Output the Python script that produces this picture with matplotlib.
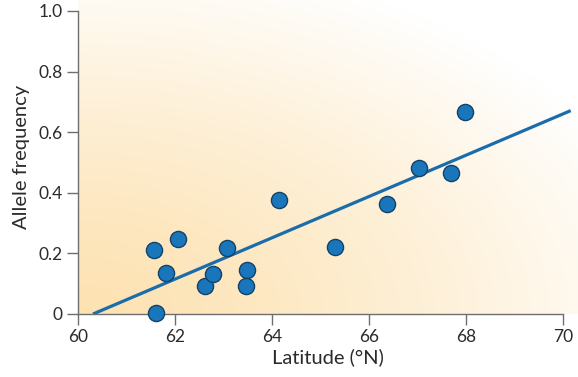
import matplotlib
matplotlib.use("Agg")
import matplotlib.pyplot as plt
import numpy as np

# latitude (deg N) and allele frequency of each sampled population
latitude = [61.57, 62.07, 61.81, 61.60, 62.62, 62.78, 63.07, 63.48, 63.46,
            64.15, 65.30, 66.38, 67.03, 67.70, 67.99]
allele_freq = [0.211, 0.247, 0.134, 0.002, 0.092, 0.132, 0.217, 0.145, 0.092,
               0.376, 0.222, 0.362, 0.481, 0.464, 0.666]

# fitted line end points
fit_x = [60.31, 70.16]
fit_y = [0.0, 0.671]

x_ticks = [60, 62, 64, 66, 68, 70]
y_ticks = [0, 0.2, 0.4, 0.6, 0.8, 1.0]
y_tick_labels = ["0", "0.2", "0.4", "0.6", "0.8", "1.0"]

plt.rcParams["font.family"] = ["Lato", "DejaVu Sans"]
text_color = "#2b2b2b"
axis_color = "#6e6e6e"

fig = plt.figure(figsize=(5.78, 3.77), dpi=100)
ax = fig.add_axes([78 / 578, 63 / 377, 500 / 578, 314 / 377])
xlim = (60, 70.31)
ylim = (0, 1.036)
ax.set_xlim(*xlim)
ax.set_ylim(*ylim)

# radial orange-to-white wash from the lower left corner
gx, gy = np.meshgrid(np.linspace(0, 1, 400), np.linspace(0, 1, 300))
r = np.sqrt((gx / 1.05) ** 2 + (gy / 1.0) ** 2)
t = np.clip(r / 1.15, 0, 1) ** 1.3
orange = np.array([253, 226, 178]) / 255
white = np.array([1.0, 1.0, 1.0])
img = orange[None, None, :] * (1 - t[..., None]) + white[None, None, :] * t[..., None]
ax.imshow(img, origin="lower", extent=(*xlim, *ylim), aspect="auto", zorder=0)

ax.plot(fit_x, fit_y, color="#1b6cab", lw=2.3, solid_capstyle="butt", zorder=2)
ax.scatter(latitude, allele_freq, s=135, color="#1a76ba", edgecolor="#12416a",
           linewidth=1.0, zorder=3, clip_on=False)

for side in ["top", "right"]:
    ax.spines[side].set_visible(False)
ax.spines["left"].set_bounds(0, 1.0)
ax.spines["bottom"].set_bounds(60, 70)
for side in ["left", "bottom"]:
    ax.spines[side].set_color(axis_color)
    ax.spines[side].set_linewidth(1.0)
    ax.spines[side].set_zorder(1)

ax.set_xticks(x_ticks)
ax.set_yticks(y_ticks)
ax.set_yticklabels(y_tick_labels)
ax.tick_params(length=8, width=1.0, color=axis_color, labelcolor=text_color,
               labelsize=12.5, pad=3)

ax.set_xlabel("Latitude (°N)", fontsize=14.5, color=text_color, labelpad=2)
ax.set_ylabel("Allele frequency", fontsize=14.5, color=text_color, labelpad=6)

fig.savefig("out.png", dpi=100)
